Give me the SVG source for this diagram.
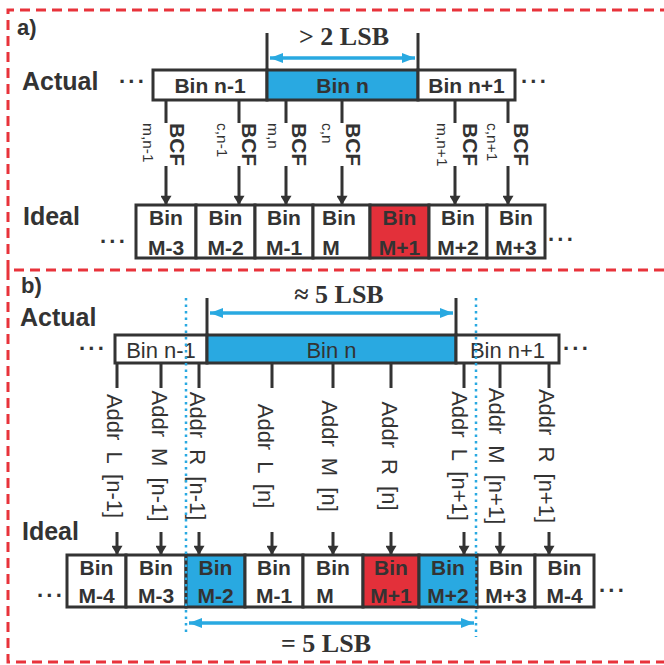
<svg xmlns="http://www.w3.org/2000/svg" width="664" height="665" viewBox="0 0 664 665">
<defs>
<style>
.frame{fill:none;stroke:#e8333b;stroke-width:3;stroke-dasharray:10 6}
.box{stroke:#333;stroke-width:3}
.w{fill:#fff}
.b{fill:#29a9e1}
.r{fill:#e3303a}
.t{font-family:"Liberation Sans",Arial,sans-serif;fill:#333}
.bold{font-weight:bold}
.lbl{font-family:"Liberation Sans",Arial,sans-serif;font-weight:bold;font-size:25px;fill:#333}
.bin{font-family:"Liberation Sans",Arial,sans-serif;font-weight:bold;font-size:21px;fill:#333;text-anchor:middle}
.serif{font-family:"Liberation Serif","Times New Roman",serif;font-weight:bold;font-size:26px;fill:#333;text-anchor:middle}
.ln{stroke:#333;stroke-width:3;fill:none}
.arr{stroke:#333;stroke-width:3;fill:none;marker-end:url(#ah)}
.barr{stroke:#29a9e1;stroke-width:3.5;fill:none;marker-start:url(#bh);marker-end:url(#bh)}
.dot{stroke:#29a9e1;stroke-width:2.5;fill:none;stroke-dasharray:2.5 4}
.bcf{font-family:"Liberation Sans",Arial,sans-serif;font-weight:bold;font-size:21px;fill:#333}
.sub{font-family:"Liberation Sans",Arial,sans-serif;font-size:15.5px;fill:#333}
.addr{font-family:"Liberation Sans",Arial,sans-serif;font-size:22px;fill:#333;text-anchor:middle;word-spacing:5px}
.dots{font-family:"Liberation Sans",Arial,sans-serif;font-weight:bold;font-size:22px;fill:#333;letter-spacing:2px}
</style>
<marker id="ah" viewBox="0 0 10 12" refX="10" refY="6" markerWidth="12" markerHeight="11" markerUnits="userSpaceOnUse" orient="auto"><path d="M0,0 L10,6 L0,12 z" fill="#333"/></marker>
<marker id="bh" viewBox="0 0 13 10" refX="13" refY="5" markerWidth="13" markerHeight="10" markerUnits="userSpaceOnUse" orient="auto-start-reverse"><path d="M0,0 L13,5 L0,10 z" fill="#29a9e1"/></marker>
</defs>
<rect width="664" height="665" fill="#fff"/>

<!-- frames -->
<g id="frames">
<path class="frame" d="M670,10 H8 V270 H670"/>
<path class="frame" d="M8,270 V662 H670"/>
</g>

<!-- ===== Panel a ===== -->
<g id="panel-a-labels">
<text class="t bold" x="17" y="35" font-size="22">a)</text>
<text class="lbl" x="22" y="90">Actual</text>
<text class="lbl" x="23" y="225">Ideal</text>
<text class="dots" x="119" y="89">···</text>
<text class="dots" x="521" y="89">···</text>
<text class="dots" x="100" y="249">···</text>
<text class="dots" x="548" y="247">···</text>
<text class="serif" x="344" y="45">&gt; 2 LSB</text>
</g>

<g id="a-actual-n-1"><rect class="box w" x="153" y="70" width="114" height="30"/><text class="bin" x="210" y="93">Bin n-1</text></g>
<g id="a-actual-n"><rect class="box b" x="267" y="70" width="151" height="30"/><text class="bin" x="342.5" y="93">Bin n</text></g>
<g id="a-actual-n+1"><rect class="box w" x="418" y="70" width="97" height="30"/><text class="bin" x="466.5" y="93">Bin n+1</text></g>

<g id="a-ideal-M-3"><rect class="box w" x="136" y="205" width="60" height="53"/><text class="bin" x="166" y="225">Bin</text><text class="bin" x="166" y="255">M-3</text></g>
<g id="a-ideal-M-2"><rect class="box w" x="196" y="205" width="59" height="53"/><text class="bin" x="225.5" y="225">Bin</text><text class="bin" x="225.5" y="255">M-2</text></g>
<g id="a-ideal-M-1"><rect class="box w" x="255" y="205" width="58" height="53"/><text class="bin" x="284" y="225">Bin</text><text class="bin" x="284" y="255">M-1</text></g>
<g id="a-ideal-M"><rect class="box w" x="313" y="205" width="57" height="53"/><text class="bin" x="339" y="225">Bin</text><text class="bin" x="331" y="255">M</text></g>
<g id="a-ideal-M+1"><rect class="box r" x="370" y="205" width="59" height="53"/><text class="bin" x="399.5" y="225">Bin</text><text class="bin" x="399.5" y="255">M+1</text></g>
<g id="a-ideal-M+2"><rect class="box w" x="429" y="205" width="58" height="53"/><text class="bin" x="458" y="225">Bin</text><text class="bin" x="458" y="255">M+2</text></g>
<g id="a-ideal-M+3"><rect class="box w" x="487" y="205" width="58" height="53"/><text class="bin" x="516" y="225">Bin</text><text class="bin" x="516" y="255">M+3</text></g>

<g id="a-bcf-labels">
<text class="sub" transform="translate(143,123) rotate(90)">m,n-1</text>
<text class="bcf" transform="translate(170,123) rotate(90)">BCF</text>
<text class="sub" transform="translate(217,123) rotate(90)">c,n-1</text>
<text class="bcf" transform="translate(242,123) rotate(90)">BCF</text>
<text class="sub" transform="translate(268,123) rotate(90)">m,n</text>
<text class="bcf" transform="translate(292,123) rotate(90)">BCF</text>
<text class="sub" transform="translate(322,123) rotate(90)">c,n</text>
<text class="bcf" transform="translate(346,123) rotate(90)">BCF</text>
<text class="sub" transform="translate(437,123) rotate(90)">m,n+1</text>
<text class="bcf" transform="translate(463,123) rotate(90)">BCF</text>
<text class="sub" transform="translate(487,123) rotate(90)">c,n+1</text>
<text class="bcf" transform="translate(514,123) rotate(90)">BCF</text>
</g>

<g id="a-connectors">
<line class="ln" x1="267" y1="33" x2="267" y2="70"/>
<line class="ln" x1="418" y1="33" x2="418" y2="70"/>
<line class="barr" x1="270" y1="58" x2="415" y2="58"/>
<path class="ln" d="M166,100V123M239,100V123M286,100V123M342,100V123M455,100V123M508,100V123"/>
<line class="arr" x1="166" y1="166" x2="166" y2="205"/>
<line class="arr" x1="239" y1="166" x2="239" y2="205"/>
<line class="arr" x1="286" y1="166" x2="286" y2="205"/>
<line class="arr" x1="342" y1="166" x2="342" y2="205"/>
<line class="arr" x1="455" y1="166" x2="455" y2="205"/>
<line class="arr" x1="508" y1="166" x2="508" y2="205"/>
</g>

<!-- ===== Panel b ===== -->
<g id="panel-b-labels">
<text class="t bold" x="21" y="293" font-size="22">b)</text>
<text class="lbl" x="20" y="326">Actual</text>
<text class="lbl" x="22" y="540">Ideal</text>
<text class="dots" x="79" y="356">···</text>
<text class="dots" x="563" y="356">···</text>
<text class="dots" x="37" y="603">···</text>
<text class="dots" x="599" y="598">···</text>
<text class="serif" x="339" y="303">≈ 5 LSB</text>
<text class="serif" x="326" y="652">= 5 LSB</text>
</g>

<g id="b-actual-n-1"><rect class="box w" x="115" y="335" width="92" height="28"/><text class="t" x="161" y="358" font-size="22" text-anchor="middle">Bin n-1</text></g>
<g id="b-actual-n"><rect class="box b" x="207" y="335" width="249" height="28"/><text class="t" x="331.5" y="358" font-size="22" text-anchor="middle">Bin n</text></g>
<g id="b-actual-n+1"><rect class="box w" x="456" y="335" width="103" height="28"/><text class="t" x="507.5" y="358" font-size="22" text-anchor="middle">Bin n+1</text></g>

<g id="b-ideal-M-4a"><rect class="box w" x="67" y="555" width="59" height="52"/><text class="bin" x="96.5" y="575">Bin</text><text class="bin" x="96.5" y="603">M-4</text></g>
<g id="b-ideal-M-3"><rect class="box w" x="126" y="555" width="60" height="52"/><text class="bin" x="156" y="575">Bin</text><text class="bin" x="156" y="603">M-3</text></g>
<g id="b-ideal-M-2"><rect class="box b" x="186" y="555" width="59" height="52"/><text class="bin" x="215.5" y="575">Bin</text><text class="bin" x="215.5" y="603">M-2</text></g>
<g id="b-ideal-M-1"><rect class="box w" x="245" y="555" width="58" height="52"/><text class="bin" x="274" y="575">Bin</text><text class="bin" x="274" y="603">M-1</text></g>
<g id="b-ideal-M"><rect class="box w" x="303" y="555" width="60" height="52"/><text class="bin" x="333" y="575">Bin</text><text class="bin" x="325" y="603">M</text></g>
<g id="b-ideal-M+1"><rect class="box r" x="363" y="555" width="56" height="52"/><text class="bin" x="391" y="575">Bin</text><text class="bin" x="391" y="603">M+1</text></g>
<g id="b-ideal-M+2"><rect class="box b" x="419" y="555" width="58" height="52"/><text class="bin" x="448" y="575">Bin</text><text class="bin" x="448" y="603">M+2</text></g>
<g id="b-ideal-M+3"><rect class="box w" x="477" y="555" width="58" height="52"/><text class="bin" x="506" y="575">Bin</text><text class="bin" x="506" y="603">M+3</text></g>
<g id="b-ideal-M-4b"><rect class="box w" x="535" y="555" width="59" height="52"/><text class="bin" x="564.5" y="575">Bin</text><text class="bin" x="564.5" y="603">M-4</text></g>

<g id="b-addr-labels">
<text class="addr" transform="translate(107,456) rotate(90)">Addr L [n-1]</text>
<text class="addr" transform="translate(152,456) rotate(90)">Addr M [n-1]</text>
<text class="addr" transform="translate(190,456) rotate(90)">Addr R [n-1]</text>
<text class="addr" transform="translate(258,456) rotate(90)">Addr L [n]</text>
<text class="addr" transform="translate(322,456) rotate(90)">Addr M [n]</text>
<text class="addr" transform="translate(382,456) rotate(90)">Addr R [n]</text>
<text class="addr" transform="translate(452,456) rotate(90)">Addr L [n+1]</text>
<text class="addr" transform="translate(489,456) rotate(90)">Addr M [n+1]</text>
<text class="addr" transform="translate(539,456) rotate(90)">Addr R [n+1]</text>
</g>

<g id="b-connectors">
<line class="ln" x1="207" y1="298" x2="207" y2="335"/>
<line class="ln" x1="456" y1="298" x2="456" y2="335"/>
<line class="barr" x1="210" y1="313" x2="453" y2="313"/>
<line class="dot" x1="186" y1="298" x2="186" y2="633"/>
<line class="dot" x1="476" y1="298" x2="476" y2="637"/>
<line class="barr" x1="189" y1="623" x2="474" y2="623"/>
<path class="ln" d="M117,363V388M161,363V388M199,363V388M272,363V388M333,363V388M391,363V388M464,363V388M500,363V388M549,363V388"/>
<line class="arr" x1="117" y1="532" x2="117" y2="555"/>
<line class="arr" x1="161" y1="532" x2="161" y2="555"/>
<line class="arr" x1="199" y1="532" x2="199" y2="555"/>
<line class="arr" x1="272" y1="532" x2="272" y2="555"/>
<line class="arr" x1="333" y1="532" x2="333" y2="555"/>
<line class="arr" x1="391" y1="532" x2="391" y2="555"/>
<line class="arr" x1="464" y1="532" x2="464" y2="555"/>
<line class="arr" x1="500" y1="532" x2="500" y2="555"/>
<line class="arr" x1="549" y1="532" x2="549" y2="555"/>
</g>
</svg>
